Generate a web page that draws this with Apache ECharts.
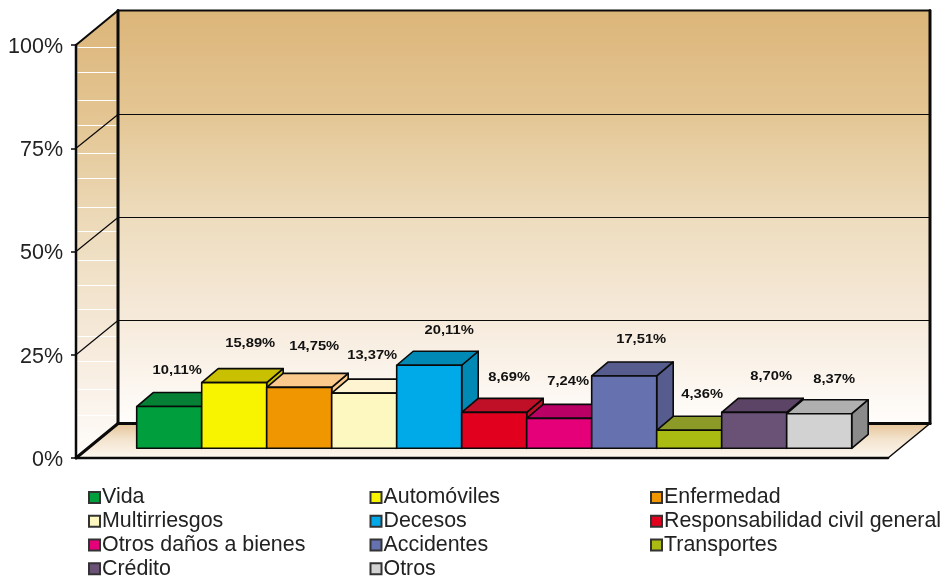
<!DOCTYPE html>
<html><head><meta charset="utf-8">
<style>html,body{margin:0;padding:0;background:#fff}#c{width:945px;height:577px}</style>
<script src="https://cdn.jsdelivr.net/npm/echarts@6/dist/echarts.min.js"></script>
</head><body><div id="c"></div>
<script>
const categories = ['Vida','Automóviles','Enfermedad','Multirriesgos','Decesos','Responsabilidad civil general','Otros daños a bienes','Accidentes','Transportes','Crédito','Otros'];
const values = [10.11,15.89,14.75,13.37,20.11,8.69,7.24,17.51,4.36,8.70,8.37];
const tickValues = [0,25,50,75,100];
const wallStripes = [99.5,93.5,86.7,80.6,73.8,67.8,60.8,55,48,42,36,29.5,23.4,16.6,10.5];

const frontColors = ['#009e3d','#f8f400','#ef9600','#fdf8bf','#00a9e8','#e2001f','#e5007a','#6672b0','#aabb12','#6a5277','#d2d2d2'];
const topColors   = ['#058035','#c8c000','#fcc98d','#fff4d2','#0089b5','#c01028','#bb0065','#565c8d','#8c9a28','#5c4466','#b0b0b0'];
const sideColors  = ['#058035','#c8c000','#fcc98d','#fff4d2','#0089b5','#c01028','#bb0065','#565c8d','#8c9a28','#5c4466','#8a8a8a'];
const labelNudgeX = [8,16,15,8,20,15,9,17,13,17,15];
const labelNudgeY = [36,39,41,38,35,35,37,36,36,36,34];

const wallDepthX = 42, wallDepthY = -34.5, barDepthX = 16.5, barDepthY = -14;
const ink = '#0a0a0a';

function line(x1,y1,x2,y2,w,c){
  return {type:'line',silent:true,shape:{x1,y1,x2,y2},style:{stroke:c||ink,lineWidth:w,lineCap:'round'}};
}
function poly(points,fill,stroke,w){
  return {type:'polygon',silent:true,shape:{points},style:{fill,stroke:stroke||null,lineWidth:w||0,lineJoin:'round'}};
}
const wallGrad = {type:'linear',x:0,y:0,x2:0,y2:1,colorStops:[
  {offset:0,color:'#dcb579'},{offset:.25,color:'#e4c694'},{offset:.5,color:'#eddcbd'},{offset:.75,color:'#f6eadb'},{offset:1,color:'#fffdfb'}]};
const floorGrad = {type:'linear',x:0,y:0,x2:0,y2:1,colorStops:[
  {offset:0,color:'#e5c498'},{offset:.45,color:'#f3e3cd'},{offset:1,color:'#fdf8f1'}]};

function renderWalls(params,api){
  const x0 = api.coord([0,0])[0], x1 = api.coord([1,0])[0];
  const y0 = api.coord([0,0])[1], yTop = api.coord([0,100])[1];
  const dx = wallDepthX, dy = wallDepthY;
  const kids = [
    poly([[x0,yTop],[x0+dx,yTop+dy],[x0+dx,y0+dy],[x0,y0]],wallGrad),
    poly([[x0+dx,yTop+dy],[x1+dx,yTop+dy],[x1+dx,y0+dy],[x0+dx,y0+dy]],wallGrad),
    poly([[x0,y0],[x0+dx,y0+dy],[x1+dx,y0+dy],[x1,y0]],floorGrad)
  ];
  wallStripes.forEach(v=>{
    const y = Math.round(api.coord([0,v])[1])+0.5;
    kids.push(line(x0+2,y,x0+dx-2,y,1,'#ffffff'));
  });
  tickValues.slice(1,-1).forEach(v=>{
    const y = api.coord([0,v])[1];
    const by = Math.round(y+dy)+0.5;
    kids.push(line(x0,y,x0+dx,by,1.2,ink));
    kids.push(line(x0+dx,by,x1+dx,by,1,ink));
  });
  kids.push(line(x0+dx,yTop+dy,x1+dx,yTop+dy,2,ink));
  kids.push(line(x0,yTop,x0+dx,yTop+dy,2,ink));
  kids.push(line(x0,yTop,x0,y0,2.5,ink));
  kids.push(line(x0+dx,yTop+dy,x0+dx,y0+dy,3,ink));
  kids.push(line(x1+dx,yTop+dy,x1+dx,y0+dy,3,ink));
  kids.push(line(x0+dx,y0+dy,x1+dx,y0+dy,3,ink));
  kids.push(line(x0,y0,x0+dx,y0+dy,3,ink));
  kids.push(line(x1,y0,x1+dx,y0+dy,1.5,ink));
  kids.push(line(x0,y0,x1,y0,2.5,ink));
  return {type:'group',children:kids};
}

function renderBar(i){
  return function(params,api){
    const v = api.value(1);
    const base = api.coord([api.value(0),0]);
    const top = api.coord([api.value(0),v]);
    const w = api.size([1,0])[0];
    const l = base[0]-w/2, r = base[0]+w/2, t = top[1], b = base[1];
    const dx = barDepthX, dy = barDepthY;
    const kids = [
      poly([[r,t],[r+dx,t+dy],[r+dx,b+dy],[r,b]],sideColors[i],ink,1.6),
      poly([[l,t],[l+dx,t+dy],[r+dx,t+dy],[r,t]],topColors[i],ink,1.6),
      poly([[l,t],[r,t],[r,b],[l,b]],frontColors[i],ink,1.6),
      {type:'text',silent:true,z2:100,
       x:base[0]+labelNudgeX[i],y:t-labelNudgeY[i],scaleX:1.18,
       style:{text:v.toFixed(2).replace('.',',')+'%',fill:'#111',
              font:'bold 12.5px "Liberation Sans"',align:'center',verticalAlign:'middle'}}
    ];
    return {type:'group',children:kids};
  };
}

const legendCols = [[0,3,6,9],[1,4,7,10],[2,5,8]];
const legendLeft = [88,369.5,650];

const option = {
  animation:false,
  backgroundColor:'#fff',
  grid:[
    {left:76,width:812,top:45,height:413},
    {left:136.7,width:715,top:35.3,height:413}
  ],
  xAxis:[
    {type:'value',gridIndex:0,min:0,max:1,show:false},
    {type:'category',gridIndex:1,data:categories,show:false}
  ],
  yAxis:[
    {type:'value',gridIndex:0,min:0,max:100,interval:25,
     axisLabel:{formatter:'{value}%',fontFamily:'Liberation Sans',fontSize:21.5,color:'#222',margin:13,verticalAlign:'top',lineHeight:4},
     axisLine:{show:false},axisTick:{show:true,length:5,lineStyle:{color:ink,width:1.5}},splitLine:{show:false}},
    {type:'value',gridIndex:1,min:0,max:100,show:false}
  ],
  legend:legendCols.map((col,k)=>({
    orient:'vertical',left:legendLeft[k],top:486,height:130,itemGap:1,itemWidth:11,itemHeight:11,
    icon:'rect',selectedMode:false,padding:0,
    data:col.map(i=>categories[i]),
    textStyle:{fontFamily:'Liberation Sans',fontSize:21.4,color:'#222',padding:[0,0,0,-3],lineHeight:22.8}
  })),
  series:[
    {type:'custom',name:'walls',xAxisIndex:0,yAxisIndex:0,silent:true,clip:false,z:1,
     data:[[0,0]],renderItem:renderWalls}
  ].concat(categories.map((name,i)=>({
    type:'custom',name,xAxisIndex:1,yAxisIndex:1,clip:false,z:2,silent:true,
    encode:{x:0,y:1},
    itemStyle:{color:frontColors[i],borderColor:'#333',borderWidth:1.5},
    data:[[name,values[i]]],
    renderItem:renderBar(i)
  })))
};
echarts.init(document.getElementById('c'),null,{renderer:'canvas'}).setOption(option);
</script></body></html>
